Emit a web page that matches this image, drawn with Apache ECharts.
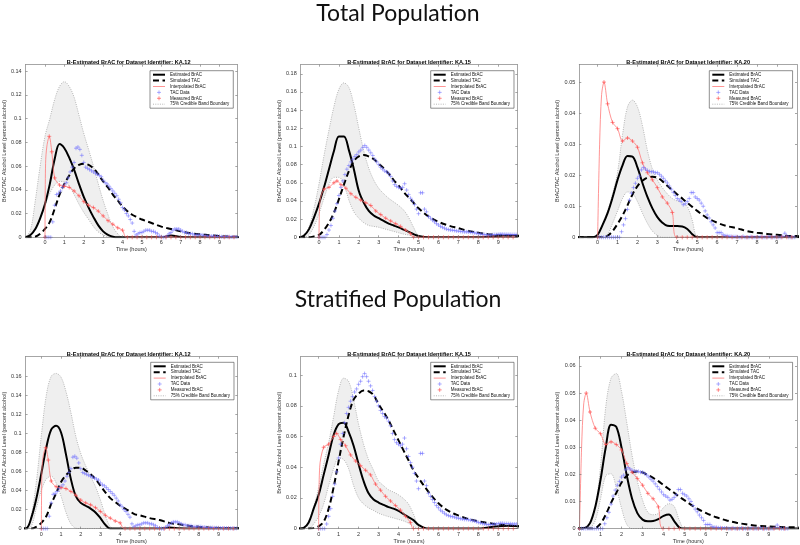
<!DOCTYPE html>
<html><head><meta charset="utf-8">
<script src="https://cdn.jsdelivr.net/npm/echarts@6/dist/echarts.min.js"></script>
<style>html,body{margin:0;padding:0;background:#fff}#c{width:800px;height:545px}</style>
</head><body><div id="c"></div>
<script>
// ---------- shared time grids ----------
const curveTime = [-1,-0.75,-0.5,-0.25,0,0.25,0.5,0.75,1,1.25,1.5,1.75,2,2.25,2.5,2.75,3,3.25,3.5,3.75,4,4.25,4.5,4.75,5,5.5,6,6.5,7,7.5,8,8.5,9,9.5,10,10.5];
const tacTime = Array.from({length: 100}, (_, i) => i / 10);
const xTicks = [0,1,2,3,4,5,6,7,8,9];

// ---------- TAC data (blue +), 0.0 .. 9.9 h ----------
const tac12 = [
0,0,0,0,0.013,0.027,0.036,0.037,0.039,0.042,
0.044,0.046,0.050,0.055,0.059,0.063,0.075,0.076,0.074,0.069,
0.063,0.059,0.058,0.057,0.056,0.055,0.054,0.053,0.052,0.051,
0.048,0.046,0.045,0.043,0.041,0.039,0.037,0.035,0.032,0.029,
0.025,0.023,0.020,0.018,0.015,0.012,0.005,0.002,0.003,0.004,
0.004,0.005,0.006,0.006,0.006,0.005,0.005,0.004,0.003,0.001,
0.0005,0,0,0.001,0.003,0.004,0.006,0.007,0.007,0.007,
0.006,0.005,0.004,0.004,0.003,0.003,0.003,0.002,0.002,0.002,
0.002,0.002,0.0015,0.0015,0.001,0.001,0.001,0.001,0.0008,0.0008,
0.0008,0.0005,0.0005,0.0005,0.0005,0.0005,0.0003,0.0003,0.0003,0.0003];
const tac15 = [
0,0,0,0,0.003,0.008,0.013,0.021,0.029,0.037,
0.046,0.055,0.062,0.069,0.075,0.079,0.083,0.086,0.089,0.091,
0.094,0.096,0.099,0.101,0.099,0.096,0.093,0.090,0.086,0.083,
0.080,0.077,0.075,0.073,0.072,0.070,0.067,0.062,0.058,0.056,
0.055,0.054,0.055,0.059,0.052,0.047,0.043,0.040,0.036,0.031,
0.026,0.049,0.049,0.031,0.028,0.023,0.021,0.019,0.017,0.015,
0.0136,0.012,0.011,0.010,0.009,0.0085,0.008,0.0078,0.0075,0.007,
0.0068,0.0065,0.0062,0.006,0.006,0.0058,0.0055,0.0052,0.005,0.0045,
0.004,0.0037,0.0033,0.003,0.0028,0.0026,0.0026,0.0028,0.003,0.003,
0.0032,0.0035,0.0035,0.0033,0.0033,0.0032,0.0032,0.003,0.003,0.003];
const tac20 = [
0,0,0,0,0,0,0,0,0,0,
0,0,0.0018,0.004,0.006,0.009,0.012,0.0142,0.016,0.0174,
0.019,0.0197,0.0217,0.0225,0.022,0.0215,0.0212,0.0211,0.0211,0.0208,
0.0208,0.0203,0.0197,0.019,0.0182,0.0175,0.0165,0.0155,0.0145,0.0135,
0.0125,0.012,0.0115,0.0105,0.0108,0.0115,0.0125,0.0144,0.0144,0.013,
0.0125,0.012,0.011,0.010,0.0085,0.0072,0.0062,0.005,0.004,0.003,
0.0015,0.0015,0.0015,0.0008,0.0005,0.0005,0.0003,0.0003,0.0002,0.0002,
0.0002,0,0,0.0003,0,0,0,0.0002,0,0,
0,0,0.0002,0,0,0,0.0002,0,0,0,
0,0,0,0.0003,0.0013,0.0004,0,0,0,0];

// ---------- Measured BrAC (red +) ----------
const measT12 = [0,0.22,0.35,0.5,0.75,1,1.25,1.5,1.75,2,2.25,2.5,2.75,3,3.25,3.5,3.75,4,4.25,4.5,4.75,5,5.25,5.5,5.75,6,6.25,6.5,6.75,7,7.25,7.5,7.75,8,8.25,8.5,8.75,9,9.25,9.5,9.75];
const measV12 = [0,0.085,0.072,0.05,0.044,0.043,0.042,0.039,0.035,0.030,0.027,0.025,0.022,0.018,0.014,0.011,0.008,0.006,0,0,0,0,0,0,0,0,0,0,0,0,0,0,0,0,0,0,0,0,0,0,0];
const measT15 = [0,0.25,0.5,0.75,0.9,1.1,1.35,1.6,1.85,2.1,2.35,2.6,2.85,3.1,3.35,3.6,3.85,4.1,4.35,4.6,4.75,5,5.25,5.5,5.75,6,6.25,6.5,6.75,7,7.25,7.5,7.75,8,8.25,8.5,8.75,9,9.25,9.5,9.75];
const measV15 = [0,0.053,0.055,0.060,0.062,0.058,0.054,0.048,0.044,0.041,0.038,0.035,0.029,0.025,0.021,0.018,0.015,0.012,0.008,0.004,0,0,0,0,0,0,0,0,0,0,0,0,0,0,0,0,0,0,0,0,0];
const measT20 = [0,0.32,0.5,0.75,1,1.25,1.5,1.75,2,2.25,2.5,2.75,3,3.25,3.5,3.75,3.97,4.25,4.5,4.75,5,5.25,5.5,5.75,6,6.25,6.5,6.75,7,7.25,7.5,7.75,8,8.25,8.5,8.75,9,9.25,9.5,9.75];
const measV20 = [0,0.05,0.043,0.037,0.035,0.031,0.032,0.031,0.029,0.024,0.0208,0.0185,0.016,0.013,0.011,0.008,0,0,0,0,0,0,0,0,0,0,0,0,0,0,0,0,0,0,0,0,0,0,0,0];

// ---------- Interpolated BrAC (red line) ----------
const interpT12 = [0,0.03,0.1,0.22,0.35,0.5,0.75,1,1.25,1.5,1.75,2,2.25,2.5,2.75,3,3.25,3.5,3.75,4,4.2,9.9];
const interpV12 = [0,0.062,0.077,0.085,0.072,0.05,0.044,0.043,0.042,0.039,0.035,0.030,0.027,0.025,0.022,0.018,0.014,0.011,0.008,0.006,0,0];
const interpT15 = [0,0.05,0.25,0.5,0.75,0.9,1.1,1.35,1.6,1.85,2.1,2.35,2.6,2.85,3.1,3.35,3.6,3.85,4.1,4.35,4.6,4.75,9.9];
const interpV15 = [0,0.04,0.053,0.055,0.060,0.062,0.058,0.054,0.048,0.044,0.041,0.038,0.035,0.029,0.025,0.021,0.018,0.015,0.012,0.008,0.004,0,0];
const interpT20 = [0,0.1,0.2,0.32,0.5,0.75,1,1.25,1.5,1.75,2,2.25,2.5,2.75,3,3.25,3.5,3.75,3.97,9.9];
const interpV20 = [0,0.03,0.046,0.05,0.043,0.037,0.035,0.031,0.032,0.031,0.029,0.024,0.0208,0.0185,0.016,0.013,0.011,0.008,0,0];

// ---------- Model curves on curveTime (Total population) ----------
const estTot12 = [0,0.002,0.007,0.016,0.028,0.045,0.066,0.0785,0.075,0.067,0.057,0.045,0.034,0.025,0.017,0.010,0.005,0.002,0.0005,0,0,0,0,0,0, 0,0,0.0015,0.0003,0,0,0,0,0,0,0];
const simTot12 = [0,0,0.0005,0.003,0.007,0.013,0.024,0.036,0.045,0.052,0.058,0.061,0.062,0.061,0.058,0.053,0.047,0.042,0.036,0.031,0.026,0.022,0.019,0.017,0.015, 0.012,0.009,0.007,0.005,0.0035,0.0025,0.0017,0.001,0.0006,0.0004,0.0003];
const hiTot12 = [0,0.006,0.031,0.06,0.085,0.10,0.116,0.127,0.131,0.127,0.118,0.103,0.0875,0.074,0.06,0.045,0.031,0.019,0.009,0.003,0,0,0,0,0, 0,0,0,0,0,0,0,0,0,0,0];
const loTot12 = [0,0.002,0.007,0.016,0.027,0.037,0.044,0.047,0.047,0.043,0.036,0.028,0.021,0.015,0.009,0.0045,0.002,0.0005,0,0,0,0,0,0,0, 0,0,0,0,0,0,0,0,0,0,0];

const estTot15 = [0,0.002,0.009,0.022,0.037,0.055,0.075,0.095,0.111,0.111,0.096,0.075,0.051,0.038,0.029,0.024,0.021,0.018,0.015,0.013,0.011,0.0085,0.006,0.0035,0.0015, 0,0,0,0,0,0,0.0008,0.0015,0.002,0.0018,0.0015];
const simTot15 = [0,0,0,0.001,0.0026,0.008,0.016,0.027,0.042,0.058,0.073,0.084,0.089,0.0905,0.089,0.086,0.081,0.076,0.07,0.063,0.057,0.05,0.044,0.038,0.032, 0.023,0.017,0.013,0.01,0.007,0.005,0.0035,0.0026,0.002,0.0015,0.001];
const hiTot15 = [0,0.003,0.012,0.032,0.059,0.09,0.118,0.144,0.163,0.17,0.165,0.146,0.12,0.095,0.076,0.063,0.054,0.048,0.043,0.039,0.035,0.03,0.022,0.011,0.002, 0,0,0,0,0,0,0,0,0,0,0];
const loTot15 = [0,0,0.003,0.012,0.026,0.043,0.058,0.066,0.066,0.058,0.041,0.028,0.021,0.016,0.013,0.012,0.011,0.0095,0.008,0.0065,0.005,0.0035,0.0025,0.001,0, 0,0,0,0,0,0,0,0,0,0,0];

const estTot20 = [0,0,0,0,0.0008,0.004,0.0078,0.0128,0.0185,0.0232,0.0262,0.026,0.0225,0.0175,0.013,0.0093,0.0065,0.0047,0.0037,0.0036,0.0036,0.0035,0.0027,0.001,0, 0,0,0,0,0,0,0,0,0,0,0];
const simTot20 = [0,0,0,0,0,0,0.0005,0.002,0.0043,0.007,0.0103,0.0138,0.0165,0.0182,0.0192,0.0195,0.0192,0.0181,0.0166,0.0152,0.0138,0.0125,0.0111,0.0098,0.0085, 0.0062,0.0047,0.0036,0.0029,0.002,0.0015,0.0011,0.0008,0.0005,0.0004,0.0003];
const hiTot20 = [0,0,0,0,0.001,0.0045,0.0085,0.014,0.021,0.033,0.042,0.0442,0.042,0.036,0.028,0.022,0.0185,0.016,0.014,0.0125,0.0117,0.0112,0.01,0.0055,0.0003, 0,0,0,0,0,0,0,0,0,0,0];
const loTot20 = [0,0,0,0,0,0,0.001,0.0045,0.0085,0.0125,0.0146,0.0142,0.0115,0.0078,0.0045,0.002,0.0006,0,0,0,0,0,0,0,0, 0,0,0,0,0,0,0,0,0,0,0];

// ---------- Model curves on curveTime (Stratified population) ----------
const estStr12 = [0,0.0005,0.012,0.032,0.058,0.085,0.104,0.108,0.101,0.078,0.052,0.034,0.027,0.024,0.021,0.017,0.011,0.004,0,0,0,0,0,0,0, 0,0,0.0012,0.0003,0,0,0,0,0,0,0];
const simStr12 = [0,0,0,0.002,0.006,0.013,0.026,0.037,0.049,0.056,0.061,0.064,0.064,0.061,0.057,0.052,0.045,0.038,0.032,0.028,0.024,0.021,0.018,0.015,0.014, 0.011,0.009,0.006,0.0045,0.003,0.002,0.0012,0.0007,0.0004,0.0003,0.0002];
const hiStr12 = [0,0,0.015,0.05,0.098,0.14,0.16,0.163,0.159,0.144,0.122,0.097,0.079,0.066,0.055,0.044,0.03,0.014,0.002,0,0,0,0,0,0, 0,0,0,0,0,0,0,0,0,0,0];
const loStr12 = [0,0,0.003,0.022,0.04,0.052,0.055,0.048,0.034,0.017,0.005,0.0005,0,0,0,0,0,0,0,0,0,0,0,0,0, 0,0,0,0,0,0,0,0,0,0,0];

const estStr15 = [0,0.0005,0.004,0.013,0.022,0.035,0.048,0.061,0.068,0.069,0.063,0.054,0.042,0.031,0.023,0.019,0.017,0.0155,0.014,0.013,0.0115,0.0095,0.0075,0.0055,0.0025, 0,0,0,0,0,0,0.0008,0.0015,0.0018,0.0015,0.0012];
const simStr15 = [0,0,0,0.0003,0.0015,0.0045,0.013,0.027,0.044,0.06,0.074,0.084,0.088,0.09,0.0895,0.087,0.081,0.076,0.0705,0.064,0.0575,0.051,0.0445,0.038,0.033, 0.024,0.0165,0.0115,0.0085,0.0062,0.0048,0.0036,0.0027,0.002,0.0015,0.0012];
const hiStr15 = [0,0,0.005,0.014,0.027,0.042,0.056,0.073,0.09,0.098,0.096,0.084,0.068,0.055,0.045,0.038,0.031,0.028,0.0253,0.0238,0.022,0.0195,0.016,0.0095,0.002, 0,0,0,0,0,0,0,0,0,0,0];
const loStr15 = [0,0,0,0.003,0.008,0.016,0.028,0.039,0.046,0.045,0.039,0.028,0.02,0.016,0.0135,0.0118,0.01,0.0088,0.0078,0.0069,0.006,0.005,0.0035,0.0013,0, 0,0,0,0,0,0,0,0,0,0,0];

const estStr20 = [0,0,0,0,0,0.0002,0.002,0.008,0.018,0.03,0.0383,0.0375,0.0298,0.0195,0.011,0.0057,0.0033,0.0027,0.0028,0.0035,0.0047,0.0052,0.0028,0.0004,0, 0,0,0,0,0,0,0,0,0,0,0];
const simStr20 = [0,0,0,0,0,0,0,0.0002,0.0018,0.0052,0.0095,0.0132,0.017,0.0195,0.0207,0.0211,0.0207,0.0198,0.0187,0.0175,0.016,0.0146,0.0132,0.0117,0.0104, 0.0078,0.0058,0.0042,0.003,0.0021,0.0015,0.001,0.0008,0.0006,0.0005,0.0004];
const hiStr20 = [0,0,0,0,0,0.0005,0.0025,0.008,0.023,0.045,0.0555,0.0572,0.0505,0.039,0.027,0.0175,0.0105,0.006,0.0051,0.0056,0.0078,0.0092,0.0082,0.003,0, 0,0,0,0,0,0,0,0,0,0,0];
const loStr20 = [0,0,0,0,0,0,0.0003,0.003,0.011,0.0195,0.0202,0.015,0.0075,0.0015,0,0,0,0,0,0,0,0,0,0,0, 0,0,0,0,0,0,0,0,0,0,0];

// ---------- tick labels ----------
const yTicksTot12 = [0,0.02,0.04,0.06,0.08,0.1,0.12,0.14];
const yTicksTot15 = [0,0.02,0.04,0.06,0.08,0.1,0.12,0.14,0.16,0.18];
const yTicksTot20 = [0,0.01,0.02,0.03,0.04,0.05];
const yTicksStr12 = [0,0.02,0.04,0.06,0.08,0.1,0.12,0.14,0.16];
const yTicksStr15 = [0,0.02,0.04,0.06,0.08,0.1];
const yTicksStr20 = [0,0.01,0.02,0.03,0.04,0.05,0.06];

const mainTitles = ['Total Population', 'Stratified Population'];
const legendNames = ['Estimated BrAC','Simulated TAC','Interpolated BrAC','TAC Data','Measured BrAC','75% Credible Band Boundary'];
const xName = 'Time (hours)';
const yName = 'BrAC/TAC Alcohol Level (percent alcohol)';
const subTitle = id => 'B-Estimated BrAC for Dataset Identifier: KA.' + id;

// ---------- layout (positions/styles) ----------
const panels = [
  {id:'12', est:estTot12, sim:simTot12, hi:hiTot12, lo:loTot12, tac:tac12, mT:measT12, mV:measV12, iT:interpT12, iV:interpV12, yT:yTicksTot12, xMin:-1,    xMax:9.92,  yMax:0.1453, box:[20,64.7,217.3,172.6],   lg:[150,70.7],   yGap:12.5, tTop:59.7},
  {id:'15', est:estTot15, sim:simTot15, hi:hiTot15, lo:loTot15, tac:tac15, mT:measT15, mV:measV15, iT:interpT15, iV:interpV15, yT:yTicksTot15, xMin:-0.92, xMax:9.96,  yMax:0.19,   box:[300.7,64.7,216.6,172.6], lg:[430.7,70.7], yGap:14.5, tTop:59.7},
  {id:'20', est:estTot20, sim:simTot20, hi:hiTot20, lo:loTot20, tac:tac20, mT:measT20, mV:measV20, iT:interpT20, iV:interpV20, yT:yTicksTot20, xMin:-0.92, xMax:10.01, yMax:0.0556, box:[579.3,64.7,217.7,172.6], lg:[709.3,70.7], yGap:13.5, tTop:59.7},
  {id:'12', est:estStr12, sim:simStr12, hi:hiStr12, lo:loStr12, tac:tac12, mT:measT12, mV:measV12, iT:interpT12, iV:interpV12, yT:yTicksStr12, xMin:-0.8,  xMax:9.95,  yMax:0.1806, box:[20,356.7,217.3,172.3],   lg:[150.7,362.3], yGap:12.5, tTop:351.5},
  {id:'15', est:estStr15, sim:simStr15, hi:hiStr15, lo:loStr15, tac:tac15, mT:measT15, mV:measV15, iT:interpT15, iV:interpV15, yT:yTicksStr15, xMin:-0.9,  xMax:9.95,  yMax:0.112,  box:[300.7,356.7,216.6,172.3],lg:[430.7,362.3], yGap:14.5, tTop:351.5},
  {id:'20', est:estStr20, sim:simStr20, hi:hiStr20, lo:loStr20, tac:tac20, mT:measT20, mV:measV20, iT:interpT20, iV:interpV20, yT:yTicksStr20, xMin:0,     xMax:10.34, yMax:0.0634, box:[579.5,356.7,217.5,172.3],lg:[709.3,362.3], yGap:13.5, tTop:351.5}
];

const FONT = '"Liberation Sans", Arial, sans-serif';
const AX = '#6a6a6a';
const PLUS = 'path://M0,5L10,5M5,0L5,10';
const pairs = (xs, ys) => xs.map((x, i) => [x, ys[i]]);
const fmt = v => String(parseFloat(Number(v).toFixed(4)));

const grid = [], xAxis = [], yAxis = [], series = [], legend = [];
const title = [
  {text: mainTitles[0], left: 398, top: 2, textAlign: 'center', padding: 0, textStyle: {fontFamily: 'Lato, "Open Sans", sans-serif', fontSize: 23, fontWeight: 'normal', color: '#111'}},
  {text: mainTitles[1], left: 398, top: 288, textAlign: 'center', padding: 0, textStyle: {fontFamily: 'Lato, "Open Sans", sans-serif', fontSize: 23, fontWeight: 'normal', color: '#111'}}
];

panels.forEach((p, i) => {
  const [l, t, w, h] = p.box;
  grid.push({left: l, top: t, width: w, height: h, containLabel: false, show: false});
  title.push({text: subTitle(p.id), left: l + w / 2, top: p.tTop, textAlign: 'center', padding: 0,
    textStyle: {fontFamily: FONT, fontSize: 5.6, fontWeight: 'bold', color: '#000'}});
  const lineS = {color: AX, width: 0.6};
  const tickS = {show: true, inside: true, length: 2, lineStyle: lineS};
  xAxis.push({type: 'value', gridIndex: i, min: p.xMin, max: p.xMax, position: 'bottom', z: 10,
    axisLine: {show: true, onZero: false, lineStyle: lineS},
    axisTick: Object.assign({customValues: xTicks}, tickS),
    axisLabel: {customValues: xTicks, fontSize: 5.5, margin: 2.5, color: '#333', fontFamily: FONT, formatter: fmt},
    splitLine: {show: false},
    name: xName, nameLocation: 'middle', nameGap: 9, nameTextStyle: {fontSize: 5.5, color: '#333', fontFamily: FONT}});
  xAxis.push({type: 'value', gridIndex: i, min: p.xMin, max: p.xMax, position: 'top', z: 10,
    axisLine: {show: true, onZero: false, lineStyle: lineS},
    axisTick: Object.assign({customValues: xTicks}, tickS),
    axisLabel: {show: false}, splitLine: {show: false}});
  yAxis.push({type: 'value', gridIndex: i, min: 0, max: p.yMax, position: 'left', z: 10,
    axisLine: {show: true, onZero: false, lineStyle: lineS},
    axisTick: Object.assign({customValues: p.yT}, tickS),
    axisLabel: {customValues: p.yT, fontSize: 5.5, margin: 4, color: '#333', fontFamily: FONT, formatter: fmt},
    splitLine: {show: false},
    name: yName, nameLocation: 'middle', nameGap: p.yGap, nameRotate: 90,
    nameTextStyle: {fontSize: 5.5, color: '#333', fontFamily: FONT}});
  yAxis.push({type: 'value', gridIndex: i, min: 0, max: p.yMax, position: 'right', z: 10,
    axisLine: {show: true, onZero: false, lineStyle: lineS},
    axisTick: Object.assign({customValues: p.yT}, tickS),
    axisLabel: {show: false}, splitLine: {show: false}});

  const ax = {xAxisIndex: 2 * i, yAxisIndex: 2 * i, animation: false};
  const bandLine = {color: '#9a9a9a', width: 0.7, type: [1, 1.3]};
  series.push(Object.assign({type: 'line', name: legendNames[5], z: 1, data: pairs(curveTime, p.hi), smooth: 0.35, symbol: 'none',
    itemStyle: {color: '#9a9a9a'}, lineStyle: bandLine, areaStyle: {color: '#efefef', opacity: 1}, silent: true}, ax));
  series.push(Object.assign({type: 'line', name: legendNames[5], z: 1, data: pairs(curveTime, p.lo), smooth: 0.35, symbol: 'none',
    itemStyle: {color: '#9a9a9a'}, lineStyle: bandLine, areaStyle: {color: '#ffffff', opacity: 1}, silent: true}, ax));
  series.push(Object.assign({type: 'line', name: legendNames[0], z: 3, data: pairs(curveTime, p.est), smooth: 0.35, symbol: 'none',
    itemStyle: {color: '#000'}, lineStyle: {color: '#000', width: 2}}, ax));
  series.push(Object.assign({type: 'line', name: legendNames[1], z: 3, data: pairs(curveTime, p.sim), smooth: 0.35, symbol: 'none',
    itemStyle: {color: '#000'}, lineStyle: {color: '#000', width: 2, type: [6, 3.5]}}, ax));
  series.push(Object.assign({type: 'line', name: legendNames[2], z: 4, data: pairs(p.iT, p.iV), smooth: 0.3, symbol: 'none',
    itemStyle: {color: '#ff7a7a'}, lineStyle: {color: '#ff7a7a', width: 0.8}}, ax));
  series.push(Object.assign({type: 'scatter', name: legendNames[3], z: 5, data: pairs(tacTime, p.tac), symbol: PLUS, symbolSize: 4,
    itemStyle: {color: 'rgba(0,0,0,0)', borderColor: '#7070ff', borderWidth: 0.7}}, ax));
  series.push(Object.assign({type: 'scatter', name: legendNames[4], z: 6, data: pairs(p.mT, p.mV), symbol: PLUS, symbolSize: 4,
    itemStyle: {color: 'rgba(0,0,0,0)', borderColor: '#ff4a4a', borderWidth: 0.8}}, ax));

  legend.push({orient: 'vertical', left: p.lg[0], top: p.lg[1], padding: [1.5, 4, 1.5, 2], z: 20,
    itemWidth: 12, itemHeight: 4, itemGap: 0.9, selectedMode: false,
    backgroundColor: '#fff', borderColor: '#444', borderWidth: 0.6,
    textStyle: {fontSize: 4.5, lineHeight: 5, color: '#111', fontFamily: FONT},
    data: [
      {name: legendNames[0], itemStyle: {opacity: 0}, lineStyle: {width: 2}},
      {name: legendNames[1], itemStyle: {opacity: 0}, lineStyle: {width: 2}},
      {name: legendNames[2], itemStyle: {opacity: 0}, lineStyle: {width: 0.8}},
      {name: legendNames[3], itemStyle: {borderWidth: 0.7}},
      {name: legendNames[4], itemStyle: {borderWidth: 0.8}},
      {name: legendNames[5], itemStyle: {opacity: 0}, lineStyle: {width: 0.7}}
    ]});
});

const chart = echarts.init(document.getElementById('c'), null, {renderer: 'canvas'});
chart.setOption({animation: false, backgroundColor: '#fff', title, grid, xAxis, yAxis, series, legend});
</script>
</body></html>
